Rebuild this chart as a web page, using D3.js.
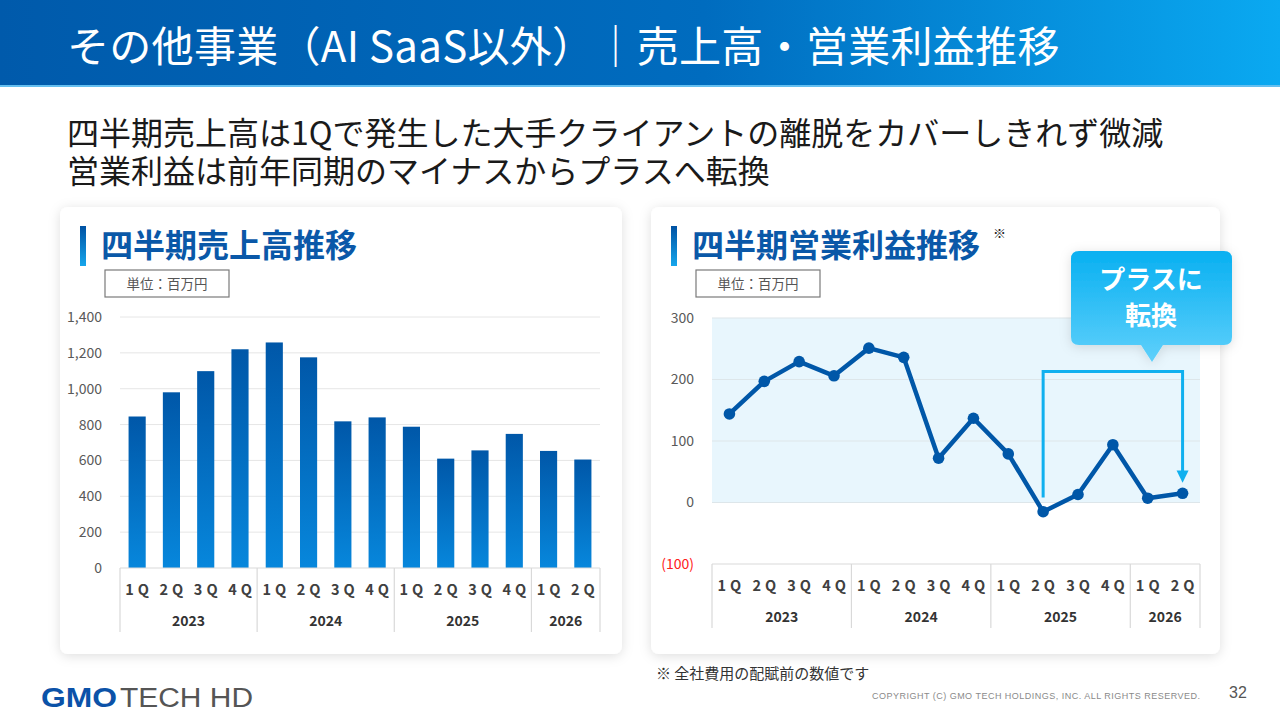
<!DOCTYPE html>
<html>
<head>
<meta charset="utf-8">
<script src="https://cdn.jsdelivr.net/npm/d3@7"></script>
<style>
  html, body { margin: 0; padding: 0; background: #fff; }
  svg { display: block; font-family: "Noto Sans CJK JP", "Noto Sans", sans-serif; }
</style>
</head>
<body>
<div id="chart"></div>
<script>
// values
const quarters = ['1Q', '2Q', '3Q', '4Q', '1Q', '2Q', '3Q', '4Q', '1Q', '2Q', '3Q', '4Q', '1Q', '2Q'];
const years = ['2023', '2024', '2025', '2026'];
const yearSpans = [4, 4, 4, 2];
const sales = [845, 980, 1098, 1220, 1258, 1175, 818, 840, 788, 610, 656, 748, 653, 605];
const profit = [144, 197, 229, 206, 251, 236, 72, 137, 79, -15, 13, 94, 7, 15];
const salesTicks = [0, 200, 400, 600, 800, 1000, 1200, 1400];
const profitTicks = [-100, 0, 100, 200, 300];

const w = 1280;
const h = 720;

const svg = d3.select('#chart')
              .append('svg')
              .attr('width', w)
              .attr('height', h);

const defs = svg.append('defs');

const headGrad = defs.append('linearGradient').attr('id', 'head-grad');
headGrad.append('stop').attr('offset', '0%').attr('stop-color', '#005aab');
headGrad.append('stop').attr('offset', '55%').attr('stop-color', '#006cbf');
headGrad.append('stop').attr('offset', '100%').attr('stop-color', '#0aa9f1');

const barGrad = defs.append('linearGradient').attr('id', 'bar-grad')
                    .attr('x1', 0).attr('y1', 0).attr('x2', 0).attr('y2', 1);
barGrad.append('stop').attr('offset', '0%').attr('stop-color', '#0057a8');
barGrad.append('stop').attr('offset', '100%').attr('stop-color', '#0787dc');

const accentGrad = defs.append('linearGradient').attr('id', 'accent-grad')
                       .attr('x1', 0).attr('y1', 0).attr('x2', 0).attr('y2', 1);
accentGrad.append('stop').attr('offset', '0%').attr('stop-color', '#0052a3');
accentGrad.append('stop').attr('offset', '100%').attr('stop-color', '#16a6ec');

const calloutGrad = defs.append('linearGradient').attr('id', 'callout-grad')
                        .attr('x1', 0).attr('y1', 0).attr('x2', 0).attr('y2', 1);
calloutGrad.append('stop').attr('offset', '0%').attr('stop-color', '#08b0f1');
calloutGrad.append('stop').attr('offset', '100%').attr('stop-color', '#5fd0fb');

const shadow = defs.append('filter').attr('id', 'shadow')
                   .attr('x', '-10%').attr('y', '-10%').attr('width', '120%').attr('height', '120%');
shadow.append('feDropShadow')
      .attr('dx', 0).attr('dy', 2).attr('stdDeviation', 6)
      .attr('flood-color', '#000').attr('flood-opacity', 0.13);

// header band
svg.append('rect').attr('x', 0).attr('y', 0).attr('width', w).attr('height', 86)
   .attr('fill', 'url(#head-grad)');
svg.append('rect').attr('x', 0).attr('y', 85).attr('width', w).attr('height', 2)
   .attr('fill', '#64bff0');
svg.append('text')
   .text('その他事業（AI SaaS以外）｜売上高・営業利益推移')
   .attr('x', 67).attr('y', 62)
   .attr('font-size', 42)
   .attr('letter-spacing', 0.3)
   .attr('fill', '#fff');

// lead text
const lead = ['四半期売上高は1Qで発生した大手クライアントの離脱をカバーしきれず微減',
              '営業利益は前年同期のマイナスからプラスへ転換'];
svg.selectAll('.lead')
   .data(lead)
   .enter()
   .append('text')
   .attr('class', 'lead')
   .text(d => d)
   .attr('x', 67)
   .attr('y', (d, i) => 145 + i * 38)
   .attr('font-size', 32)
   .attr('fill', '#1a1a1a');

// cards
const cards = [
  {x: 60, w: 562, title: '四半期売上高推移'},
  {x: 651, w: 569, title: '四半期営業利益推移'}
];
cards.forEach(c => {
  svg.append('rect')
     .attr('x', c.x).attr('y', 207).attr('width', c.w).attr('height', 447)
     .attr('rx', 8)
     .attr('fill', '#fff')
     .attr('filter', 'url(#shadow)');
  svg.append('rect')
     .attr('x', c.x + 20).attr('y', 226).attr('width', 6).attr('height', 40)
     .attr('fill', 'url(#accent-grad)');
  svg.append('text')
     .text(c.title)
     .attr('x', c.x + 41).attr('y', 257)
     .attr('font-size', 32)
     .attr('font-weight', 'bold')
     .attr('fill', '#0a58a8');
  svg.append('rect')
     .attr('x', c.x + 45).attr('y', 270).attr('width', 124).attr('height', 27)
     .attr('fill', '#fff')
     .attr('stroke', '#7a7a7a')
     .attr('stroke-width', 1.2);
  svg.append('text')
     .text('単位：百万円')
     .attr('x', c.x + 107).attr('y', 288.5)
     .attr('text-anchor', 'middle')
     .attr('font-size', 13.5)
     .attr('fill', '#555');
});
svg.append('text').text('※')
   .attr('x', 993).attr('y', 238).attr('font-size', 13).attr('fill', '#222');

// category axis with year groups, shared by both charts
const drawCategoryAxis = (g, x, base, bottom) => {
  const step = x.step();
  const first = x(0) + x.bandwidth() / 2 - step / 2;
  const edge = i => first + i * step;

  g.append('line')
   .attr('x1', x.range()[0]).attr('x2', x.range()[1])
   .attr('y1', base).attr('y2', base)
   .attr('stroke', '#d9d9d9').attr('stroke-width', 1.2);

  const qAxis = d3.axisBottom(x)
                  .tickSize(0)
                  .tickPadding(17)
                  .tickFormat(i => quarters[i]);
  const qg = g.append('g')
              .attr('transform', 'translate(0, ' + base + ')')
              .call(qAxis);
  qg.select('.domain').remove();
  qg.selectAll('text')
    .attr('font-size', 14.5)
    .attr('font-weight', 'bold')
    .attr('letter-spacing', 4)
    .attr('dx', 2)
    .attr('fill', '#404040')
    .attr('font-family', '"Noto Sans CJK JP", sans-serif');

  let start = 0;
  const bounds = [0];
  yearSpans.forEach(n => { start += n; bounds.push(start); });
  g.selectAll('.sep')
   .data(bounds)
   .enter()
   .append('line')
   .attr('class', 'sep')
   .attr('x1', d => edge(d)).attr('x2', d => edge(d))
   .attr('y1', base).attr('y2', bottom)
   .attr('stroke', '#d9d9d9').attr('stroke-width', 1.2);

  g.selectAll('.year')
   .data(years)
   .enter()
   .append('text')
   .attr('class', 'year')
   .text(d => d)
   .attr('x', (d, i) => (edge(bounds[i]) + edge(bounds[i + 1])) / 2)
   .attr('y', base + 58)
   .attr('text-anchor', 'middle')
   .attr('font-size', 14)
   .attr('font-weight', 'bold')
   .attr('fill', '#333');
};

// ---- left chart: quarterly sales (bars)
const xL = d3.scaleBand()
             .domain(d3.range(quarters.length))
             .range([120, 600])
             .paddingInner(0.5)
             .paddingOuter(0.25);
const yL = d3.scaleLinear()
             .domain([0, 1400])
             .range([568, 317]);

const left = svg.append('g');
left.selectAll('.grid')
    .data(salesTicks.slice(1))
    .enter()
    .append('line')
    .attr('class', 'grid')
    .attr('x1', 120).attr('x2', 600)
    .attr('y1', d => yL(d)).attr('y2', d => yL(d))
    .attr('stroke', '#e6e6e6').attr('stroke-width', 1);

left.selectAll('.bar')
    .data(sales)
    .enter()
    .append('rect')
    .attr('class', 'bar')
    .attr('x', (d, i) => xL(i))
    .attr('width', xL.bandwidth())
    .attr('y', d => yL(d))
    .attr('height', d => yL(0) - yL(d))
    .attr('fill', 'url(#bar-grad)');

const yAxisL = d3.axisLeft(yL)
                 .tickValues(salesTicks)
                 .tickSize(0)
                 .tickPadding(18)
                 .tickFormat(d3.format(','));
const ygL = left.append('g')
                .attr('transform', 'translate(120, 0)')
                .call(yAxisL);
ygL.select('.domain').remove();
ygL.selectAll('text')
   .attr('font-size', 14)
   .attr('fill', '#595959')
   .attr('font-family', '"Noto Sans CJK JP", sans-serif');

drawCategoryAxis(left, xL, 568, 632);

// ---- right chart: quarterly operating profit (line)
const xR = d3.scaleBand()
             .domain(d3.range(quarters.length))
             .range([712, 1200])
             .paddingInner(0.5)
             .paddingOuter(0.25);
const yR = d3.scaleLinear()
             .domain([-100, 300])
             .range([564, 318]);
const cx = i => xR(i) + xR.bandwidth() / 2;

const right = svg.append('g');
right.append('rect')
     .attr('x', 712).attr('y', yR(300))
     .attr('width', 488).attr('height', yR(0) - yR(300))
     .attr('fill', '#e8f6fd');

right.selectAll('.grid')
     .data(profitTicks.slice(1))
     .enter()
     .append('line')
     .attr('class', 'grid')
     .attr('x1', 712).attr('x2', 1200)
     .attr('y1', d => yR(d)).attr('y2', d => yR(d))
     .attr('stroke', '#dde6ea').attr('stroke-width', 1.2);

const yAxisR = d3.axisLeft(yR)
                 .tickValues(profitTicks)
                 .tickSize(0)
                 .tickPadding(18)
                 .tickFormat(d => d < 0 ? '(' + (-d) + ')' : d);
const ygR = right.append('g')
                 .attr('transform', 'translate(712, 0)')
                 .call(yAxisR);
ygR.select('.domain').remove();
ygR.selectAll('text')
   .attr('font-size', 14)
   .attr('fill', d => d < 0 ? '#ff2020' : '#595959')
   .attr('font-family', '"Noto Sans CJK JP", sans-serif');

drawCategoryAxis(right, xR, 564, 628);

// turn-around bracket (2Q 2025 -> 2Q 2026)
const bracketTop = 213;
right.append('path')
     .attr('d', 'M' + cx(9) + ',' + yR(8) +
                'V' + yR(bracketTop) +
                'H' + cx(13) +
                'V' + yR(50))
     .attr('fill', 'none')
     .attr('stroke', '#10b0ef')
     .attr('stroke-width', 3);
right.append('path')
     .attr('d', 'M' + (cx(13) - 6) + ',' + yR(52) +
                'L' + (cx(13) + 6) + ',' + yR(52) +
                'L' + cx(13) + ',' + yR(32) + 'Z')
     .attr('fill', '#10b0ef');

const line = d3.line()
               .x((d, i) => cx(i))
               .y(d => yR(d));
right.append('path')
     .datum(profit)
     .attr('d', line)
     .attr('fill', 'none')
     .attr('stroke', '#0057a8')
     .attr('stroke-width', 4.5)
     .attr('stroke-linejoin', 'round');
right.selectAll('.dot')
     .data(profit)
     .enter()
     .append('circle')
     .attr('class', 'dot')
     .attr('cx', (d, i) => cx(i))
     .attr('cy', d => yR(d))
     .attr('r', 5.8)
     .attr('fill', '#0057a8');

// callout
const callout = svg.append('g').attr('filter', 'url(#shadow)');
callout.append('path')
       .attr('d', 'M1079,251 H1224 Q1232,251 1232,259 V337 Q1232,345 1224,345 H1163 L1152,362 L1141,345 H1079 Q1071,345 1071,337 V259 Q1071,251 1079,251 Z')
       .attr('fill', 'url(#callout-grad)');
svg.selectAll('.callout-text')
   .data(['プラスに', '転換'])
   .enter()
   .append('text')
   .attr('class', 'callout-text')
   .text(d => d)
   .attr('x', 1151)
   .attr('y', (d, i) => 289 + i * 36)
   .attr('text-anchor', 'middle')
   .attr('font-size', 26)
   .attr('font-weight', 'bold')
   .attr('fill', '#fff');

// footer
svg.append('text').text('※ 全社費用の配賦前の数値です')
   .attr('x', 656).attr('y', 679)
   .attr('font-size', 15)
   .attr('fill', '#333');
svg.append('text').text('COPYRIGHT (C) GMO TECH HOLDINGS, INC. ALL RIGHTS RESERVED.')
   .attr('x', 872).attr('y', 699)
   .attr('font-size', 9)
   .attr('textLength', 328)
   .attr('lengthAdjust', 'spacing')
   .attr('fill', '#8a8a8a')
   .attr('font-family', '"Liberation Sans", sans-serif');
svg.append('text').text('32')
   .attr('x', 1229).attr('y', 698)
   .attr('font-size', 16)
   .attr('fill', '#555')
   .attr('font-family', '"Liberation Sans", sans-serif');
svg.append('text').text('GMO')
   .attr('x', 41).attr('y', 707)
   .attr('font-size', 27)
   .attr('font-weight', 'bold')
   .attr('textLength', 76)
   .attr('lengthAdjust', 'spacingAndGlyphs')
   .attr('fill', '#0b52a8')
   .attr('font-family', '"Liberation Sans", sans-serif');
svg.append('text').text('TECH HD')
   .attr('x', 120).attr('y', 707)
   .attr('font-size', 27)
   .attr('textLength', 133)
   .attr('lengthAdjust', 'spacingAndGlyphs')
   .attr('fill', '#555')
   .attr('font-family', '"Liberation Sans Narrow", "Liberation Sans", sans-serif');
</script>
</body>
</html>
